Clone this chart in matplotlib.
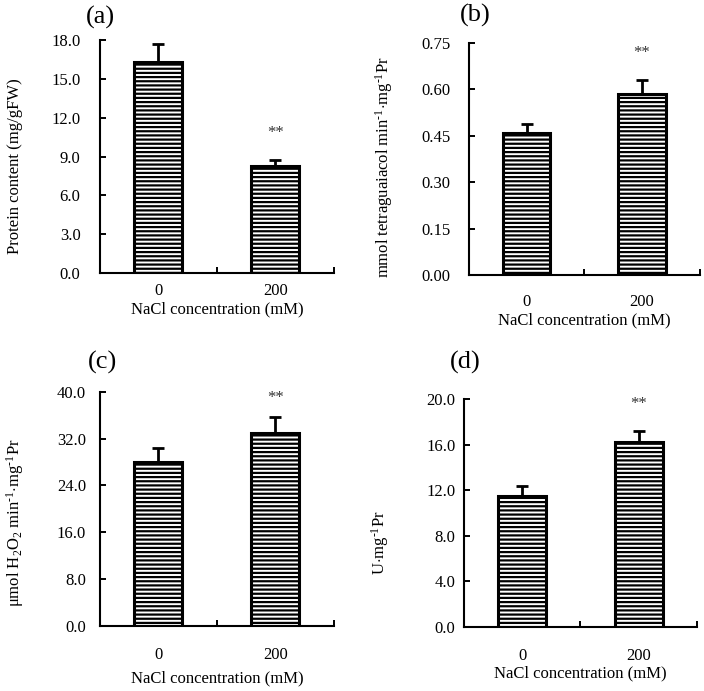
import numpy as np
import matplotlib
matplotlib.use("Agg")
import matplotlib.pyplot as plt
from matplotlib.ticker import FormatStrFormatter

plt.rcParams['font.family'] = ['Liberation Serif', 'DejaVu Serif']
plt.rcParams['mathtext.fontset'] = 'custom'
plt.rcParams['mathtext.rm'] = 'Liberation Serif'
plt.rcParams['mathtext.it'] = 'Liberation Serif:italic'
plt.rcParams['hatch.linewidth'] = 1.6

categories = ["0", "200"]
xlabel = "NaCl concentration (mM)"

protein = [16.3, 8.3]
protein_err = [1.4, 0.4]

pod = [0.46, 0.585]
pod_err = [0.028, 0.045]

cat = [28.0, 33.0]
cat_err = [2.4, 2.7]

sod = [11.5, 16.2]
sod_err = [0.85, 1.0]

star_y = [10.8, 0.717, 39.0, 19.6]

sup = "$^{\\mathregular{\u20101}}$"

panels = [
    dict(tag="(a)", vals=protein, err=protein_err, ylim=18.0, step=3.0, fmt="%.1f",
         ylabel="Protein content (mg/gFW)", star=star_y[0],
         rect=[0.142, 0.605, 0.332, 0.337], ypad=14, xpad=7, xl_y=-0.122, yl=(-0.365, 0.46),
         tagpos=(0.142, 0.975)),
    dict(tag="(b)", vals=pod, err=pod_err, ylim=0.75, step=0.15, fmt="%.2f",
         ylabel="mmol tetraguaiacol min" + sup + r"$\cdot$mg" + sup + "Pr",
         star=star_y[1],
         rect=[0.666, 0.602, 0.328, 0.336], ypad=13, xpad=14, xl_y=-0.16, yl=(-0.368, 0.465),
         tagpos=(0.675, 0.978)),
    dict(tag="(c)", vals=cat, err=cat_err, ylim=40.0, step=8.0, fmt="%.1f",
         ylabel=r"$\mathregular{\mu}$mol H$_{\mathregular{2}}$O$_{\mathregular{2}}$ min" + sup
                + r"$\cdot$mg" + sup + "Pr",
         star=star_y[2],
         rect=[0.142, 0.094, 0.332, 0.339], ypad=10, xpad=15, xl_y=-0.19, yl=(-0.365, 0.44),
         tagpos=(0.146, 0.476)),
    dict(tag="(d)", vals=sod, err=sod_err, ylim=20.0, step=4.0, fmt="%.1f",
         ylabel=r"U$\cdot$mg" + sup + "Pr", star=star_y[3],
         rect=[0.659, 0.0926, 0.331, 0.330], ypad=6, xpad=15, xl_y=-0.17, yl=(-0.362, 0.37),
         tagpos=(0.661, 0.476)),
]

fig = plt.figure(figsize=(7.04, 6.91), dpi=100)
xpos = np.array([0.5, 1.5])

for p in panels:
    ax = fig.add_axes(p["rect"])
    ax.bar(xpos, p["vals"], width=0.41, color="white", edgecolor="black",
           linewidth=2.2, hatch="----", zorder=2)
    ax.errorbar(xpos, p["vals"], yerr=[[0, 0], p["err"]], fmt="none",
                ecolor="black", elinewidth=2.0, capsize=4.5, capthick=2.0, zorder=1)
    ax.text(1.5, p["star"], "**", ha="center", va="center", fontsize=12, color="#333333")

    ax.set_xlim(0, 2)
    ax.set_ylim(0, p["ylim"])
    ax.set_yticks(np.arange(0, p["ylim"] + p["step"] / 2, p["step"]))
    ax.yaxis.set_major_formatter(FormatStrFormatter(p["fmt"]))
    ax.tick_params(axis="y", direction="in", length=4, width=1.4,
                   labelsize=12, pad=p["ypad"])

    ax.set_xticks([0, 1, 2])
    ax.set_xticklabels([])
    ax.tick_params(axis="x", which="major", direction="in", length=4, width=1.4)
    ax.set_xticks(xpos, minor=True)
    ax.set_xticklabels(categories, minor=True)
    ax.tick_params(axis="x", which="minor", length=0, labelsize=12, pad=p["xpad"])

    for s in ["top", "right"]:
        ax.spines[s].set_visible(False)
    for s in ["left", "bottom"]:
        ax.spines[s].set_linewidth(1.5)

    ax.text(0.5, p["xl_y"], xlabel, transform=ax.transAxes, ha="center", va="top",
            fontsize=12)
    ax.text(p["yl"][0], p["yl"][1], p["ylabel"], transform=ax.transAxes, rotation=90,
            ha="center", va="center", fontsize=12)
    fig.text(p["tagpos"][0], p["tagpos"][1], p["tag"], ha="center", va="center", fontsize=19)

fig.savefig("out.png", dpi=100)
